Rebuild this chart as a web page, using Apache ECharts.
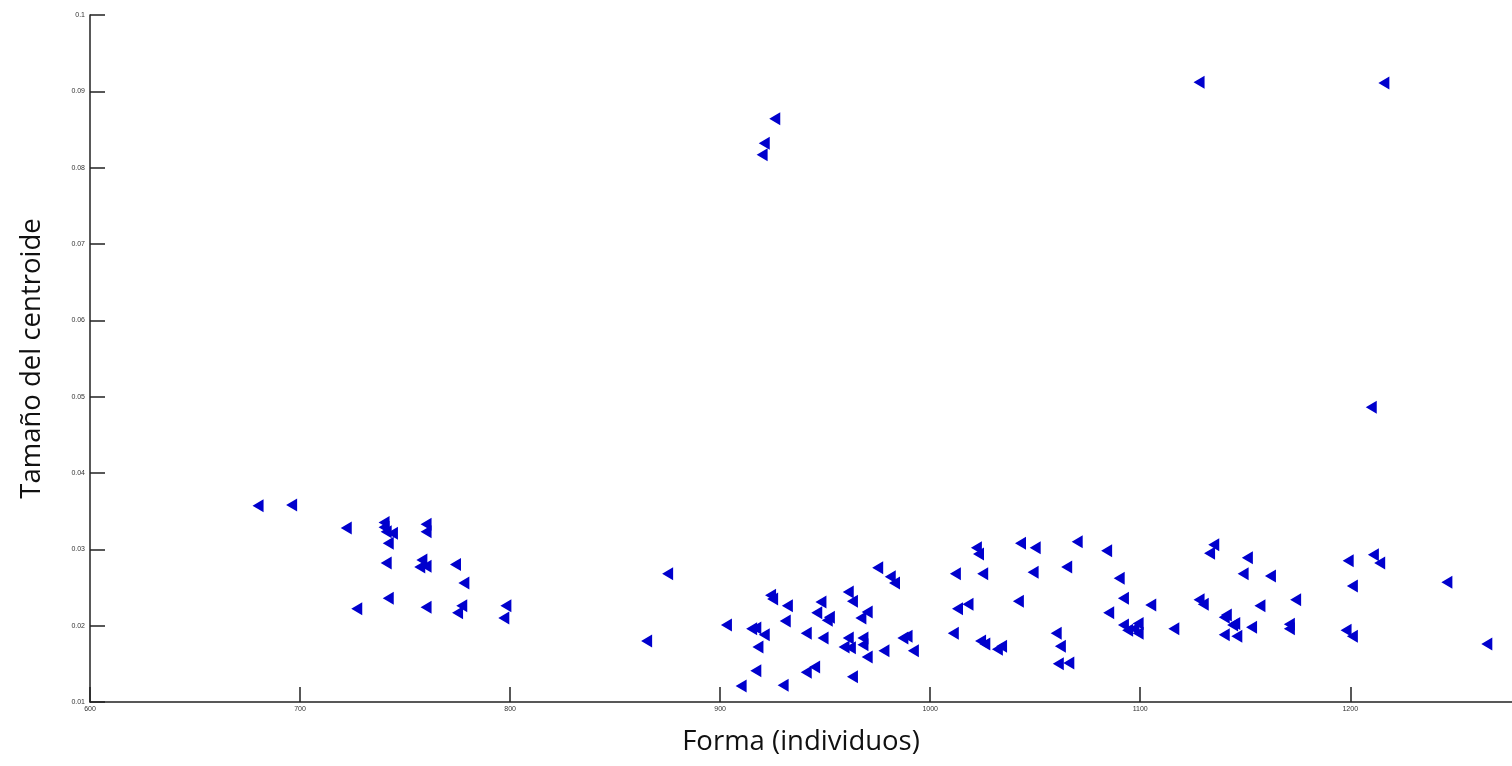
<!DOCTYPE html>
<html>
<head>
<meta charset="utf-8">
<script src="https://cdn.jsdelivr.net/npm/echarts@6/dist/echarts.min.js"></script>
<style>
html,body{margin:0;padding:0;background:#fff;}
#chart{width:1512px;height:766px;}
</style>
</head>
<body>
<div id="chart"></div>
<script>
// datos
var forma = [680,696,722,740,740,741,744,742,760,760,741,758,757,760,774,778,742,727,760,777,775,798,797,
    865,875,903,910,915,917,918,921,917,924,925,930,932,931,941,941,945,946,948,949,951,952,959,961,962,961,963,963,967,970,968,968,970,975,978,981,983,987,989,992,
    926,921,920,
    1011,1012,1013,1018,1022,1023,1025,1024,1026,1032,1034,1042,1043,1050,1049,1060,1062,1061,1066,1065,1070,
    1084,1085,1090,1092,1092,1094,1097,1099,1099,1105,1116,1128,1130,1128,1133,1135,1140,1141,1144,1145,1140,1146,
    1149,1151,1153,1157,1162,1171,1171,1174,1198,1201,1199,1201,1211,1214,1210,1216,1246,1265];
var centroide = [0.0357,0.0358,0.0328,0.0335,0.0329,0.0323,0.0321,0.0308,0.0333,0.0323,0.0282,0.0286,0.0277,0.0278,0.0280,0.0256,0.0236,0.0222,0.0224,0.0226,0.0217,0.0226,0.0210,
    0.0180,0.0268,0.0201,0.0121,0.0196,0.0197,0.0172,0.0188,0.0141,0.0240,0.0235,0.0122,0.0226,0.0206,0.0190,0.0139,0.0146,0.0217,0.0231,0.0184,0.0207,0.0211,0.0172,0.0184,0.0171,0.0244,0.0232,0.0133,0.0210,0.0218,0.0184,0.0175,0.0159,0.0276,0.0167,0.0264,0.0256,0.0184,0.0186,0.0167,
    0.0864,0.0832,0.0817,
    0.0190,0.0268,0.0222,0.0228,0.0302,0.0294,0.0268,0.0180,0.0176,0.0169,0.0173,0.0232,0.0308,0.0302,0.0270,0.0190,0.0173,0.0150,0.0151,0.0277,0.0310,
    0.0298,0.0217,0.0262,0.0236,0.0201,0.0194,0.0196,0.0190,0.0203,0.0227,0.0196,0.0234,0.0228,0.0912,0.0295,0.0306,0.0211,0.0214,0.0201,0.0203,0.0188,0.0186,
    0.0268,0.0289,0.0198,0.0226,0.0265,0.0202,0.0196,0.0234,0.0194,0.0186,0.0285,0.0252,0.0293,0.0282,0.0486,0.0911,0.0257,0.0176];
var xTicks = [600,700,800,900,1000,1100,1200];

var puntos = [];
for (var i = 0; i < forma.length; i++) {
    puntos.push([forma[i], centroide[i]]);
}

var chart = echarts.init(document.getElementById('chart'));
var ejeLinea = { show: true, lineStyle: { color: '#222', width: 1.5 } };
var option = {
    animation: false,
    backgroundColor: '#fff',
    grid: {
        left: 90,
        right: 0,
        top: 15,
        bottom: 64,
        outerBoundsMode: 'none'
    },
    xAxis: {
        type: 'value',
        min: 600,
        max: 1277,
        interval: 100,
        name: 'Forma (individuos)',
        nameLocation: 'middle',
        nameGap: 26,
        nameTextStyle: { fontFamily: 'Open Sans', fontSize: 27.5, color: '#111' },
        axisLine: ejeLinea,
        axisTick: { show: true, inside: true, length: 15, customValues: xTicks, lineStyle: { color: '#222', width: 1.5 } },
        axisLabel: {
            customValues: xTicks, fontSize: 7, color: '#333', margin: 4, fontFamily: 'Liberation Sans',
            formatter: function (v) { return String(v); }
        },
        splitLine: { show: false }
    },
    yAxis: {
        type: 'value',
        min: 0.01,
        max: 0.1,
        interval: 0.01,
        name: 'Tamaño del centroide',
        nameLocation: 'middle',
        nameRotate: 90,
        nameGap: 44,
        nameTextStyle: { fontFamily: 'Open Sans', fontSize: 27.5, color: '#111' },
        axisLine: ejeLinea,
        axisTick: { show: true, inside: true, length: 15, lineStyle: { color: '#222', width: 1.5 } },
        axisLabel: {
            fontSize: 7, color: '#333', margin: 5, fontFamily: 'Liberation Sans',
            formatter: function (v) { return String(+v.toFixed(2)); }
        },
        splitLine: { show: false }
    },
    series: [
        {
            type: 'scatter',
            data: puntos,
            symbol: 'triangle',
            symbolSize: [13, 11],
            symbolRotate: 90,
            itemStyle: { color: '#0000cd', opacity: 1 }
        }
    ]
};
chart.setOption(option);
</script>
</body>
</html>
